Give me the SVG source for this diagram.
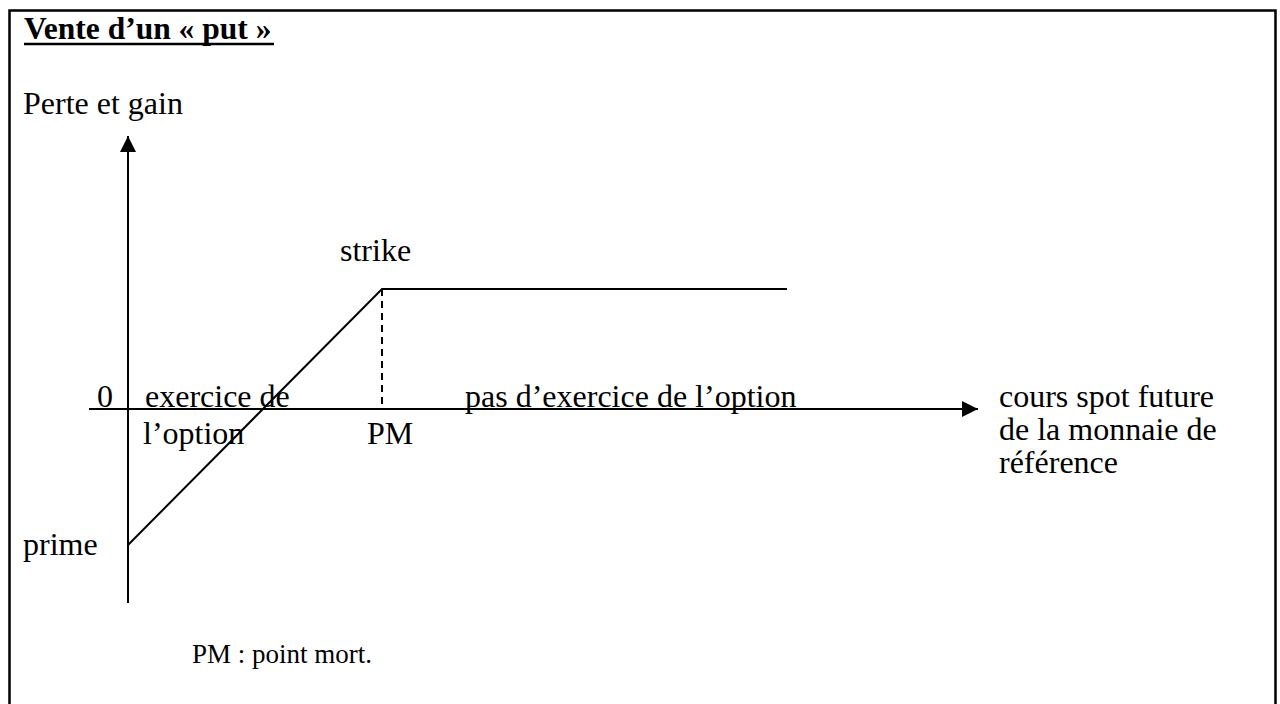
<svg xmlns="http://www.w3.org/2000/svg" width="1280" height="704" viewBox="0 0 1280 704">
  <style>
    text { font-family: "Liberation Serif", "Times New Roman", serif; font-size: 32px; fill: #000; }
    .title { font-weight: bold; font-size: 31.5px; }
    .note { font-size: 27px; }
    .line { stroke: #000; stroke-width: 2; fill: none; }
    .dash { stroke: #000; stroke-width: 2; stroke-dasharray: 7 5; fill: none; }
  </style>
  <defs>
    <marker id="arrow" viewBox="0 0 10 10" refX="10" refY="5" markerWidth="8" markerHeight="8" markerUnits="strokeWidth" orient="auto">
      <path d="M0,0 L10,5 L0,10 Z" fill="#000"/>
    </marker>
  </defs>
  <rect x="0" y="0" width="1280" height="704" fill="#fff"/>
  <!-- frame -->
  <rect x="9.5" y="10.5" width="1266" height="720" fill="none" stroke="#000" stroke-width="2.5"/>

  <g id="title">
    <text class="title" x="24" y="39">Vente d’un « put »</text>
    <line x1="24" y1="44" x2="274" y2="44" stroke="#000" stroke-width="2.5"/>
  </g>

  <g id="axes">
    <line class="line" x1="128" y1="603" x2="128" y2="136" marker-end="url(#arrow)"/>
    <line class="line" x1="89" y1="409" x2="978" y2="409" marker-end="url(#arrow)"/>
  </g>

  <g id="payoff">
    <polyline class="line" points="128,545 382,289 787,289"/>
    <line class="dash" x1="382" y1="289" x2="382" y2="409"/>
  </g>

  <g id="labels">
    <text x="23" y="114">Perte et gain</text>
    <text x="340" y="261">strike</text>
    <text x="97" y="407">0</text>
    <text x="145" y="407">exercice de</text>
    <text x="143" y="444">l’option</text>
    <text x="367" y="444">PM</text>
    <text x="465" y="407">pas d’exercice de l’option</text>
    <text x="999" y="407">cours spot future</text>
    <text x="999" y="440">de la monnaie de</text>
    <text x="999" y="473">référence</text>
    <text x="23" y="555">prime</text>
    <text class="note" x="192" y="663">PM : point mort.</text>
  </g>
</svg>
